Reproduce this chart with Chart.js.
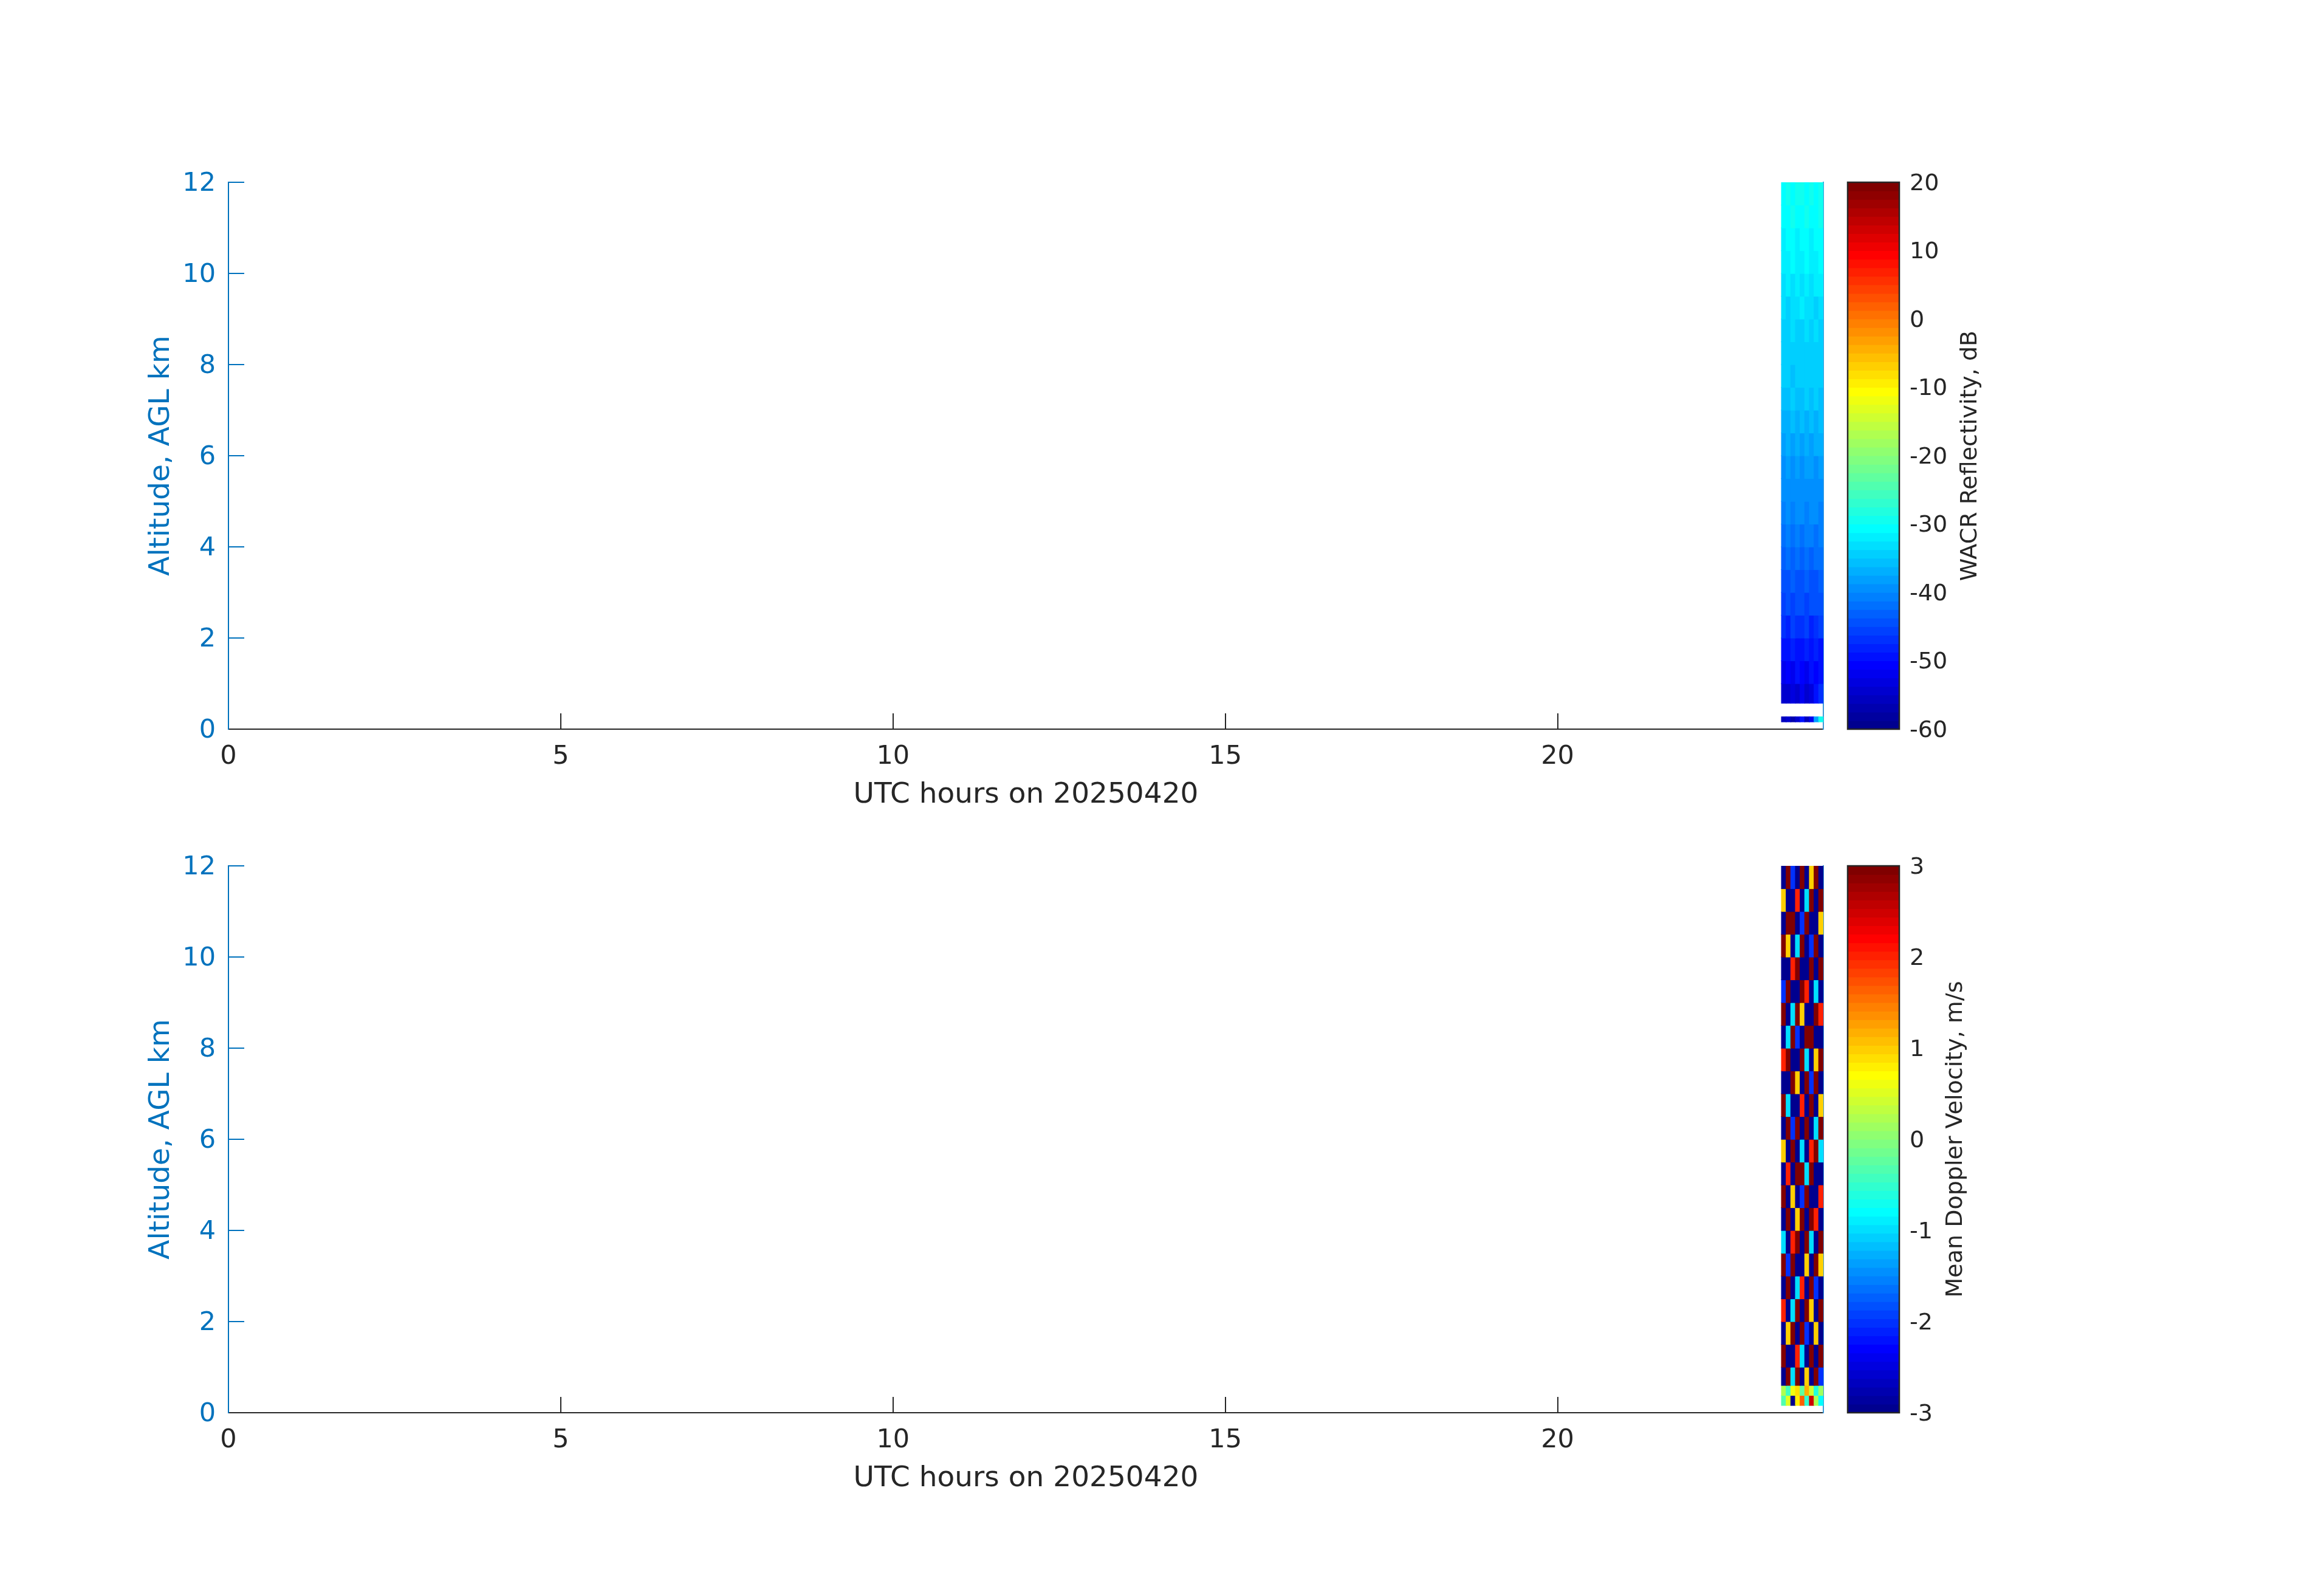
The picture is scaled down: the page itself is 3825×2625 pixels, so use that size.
<!DOCTYPE html>
<html>
<head>
<meta charset="utf-8">
<script src="https://cdn.jsdelivr.net/npm/chart.js@4.4.1/dist/chart.umd.min.js"></script>
<style>
    html, body { margin: 0; padding: 0; background: #fff; }
    body { width: 3825px; height: 2625px; position: relative; overflow: hidden; }
    canvas { position: absolute; }
</style>
</head>
<body>
<canvas id="zPlot" width="3040" height="1420" style="left:0px;top:0px"></canvas>
<canvas id="zBar" width="500" height="1420" style="left:3000px;top:0px"></canvas>
<canvas id="vPlot" width="3040" height="1420" style="left:0px;top:1125px"></canvas>
<canvas id="vBar" width="500" height="1420" style="left:3000px;top:1125px"></canvas>
<script>
const hourTicks = [0, 5, 10, 15, 20];
const altitudeTicks = [0, 2, 4, 6, 8, 10, 12];
const reflectivityTicks = [-60, -50, -40, -30, -20, -10, 0, 10, 20];
const velocityTicks = [-3, -2, -1, 0, 1, 2, 3];

// column centres, UTC hours (radar only ran the last ~40 minutes of the day)
const timeBins = [23.405, 23.475, 23.545, 23.615, 23.685, 23.755, 23.825, 23.895, 23.965];

// row edges in km, bottom to top
const reflHeightEdges = [0.16, 0.27, 0.57, 1.0, 1.5, 2.0, 2.5, 3.0, 3.5, 4.0, 4.5, 5.0, 5.5, 6.0,
    6.5, 7.0, 7.5, 8.0, 8.5, 9.0, 9.5, 10.0, 10.5, 11.0, 11.5, 12.0];
const velHeightEdges = [0.16, 0.38, 0.6, 1.0, 1.5, 2.0, 2.5, 3.0, 3.5, 4.0, 4.5, 5.0, 5.5, 6.0,
    6.5, 7.0, 7.5, 8.0, 8.5, 9.0, 9.5, 10.0, 10.5, 11.0, 11.5, 12.0];

// WACR reflectivity, dB (rows bottom to top, one value per time column)
const reflectivity = [
    [-56, -54, -57, -55, -50, -56, -52, -38, -30],
    [null, null, null, null, null, null, null, null, null],
    [-55, -54, -53, -55, -52, -54, -53, -50, -47],
    [-52, -51, -52, -50, -51, -52, -50, -51, -50],
    [-49, -50, -48, -49, -50, -48, -49, -48, -49],
    [-47, -48, -46, -47, -47, -46, -48, -47, -46],
    [-46, -45, -46, -44, -45, -46, -45, -44, -45],
    [-44, -44, -43, -45, -44, -43, -44, -45, -43],
    [-43, -42, -43, -42, -43, -42, -43, -42, -42],
    [-42, -41, -42, -41, -42, -41, -41, -42, -41],
    [-41, -40, -41, -40, -40, -41, -40, -40, -41],
    [-40, -39, -40, -39, -40, -39, -40, -39, -39],
    [-39, -38, -39, -38, -39, -38, -38, -39, -38],
    [-38, -37, -38, -37, -38, -37, -38, -37, -37],
    [-37, -37, -36, -37, -36, -37, -36, -37, -36],
    [-36, -36, -35, -36, -36, -35, -36, -35, -36],
    [-35, -35, -36, -35, -34, -35, -35, -34, -35],
    [-35, -34, -34, -35, -34, -34, -35, -34, -34],
    [-34, -34, -33, -34, -34, -33, -34, -33, -34],
    [-33, -34, -33, -33, -32, -33, -33, -34, -33],
    [-33, -32, -33, -32, -33, -32, -33, -32, -32],
    [-32, -32, -31, -32, -32, -31, -32, -32, -31],
    [-32, -31, -31, -32, -31, -31, -32, -31, -31],
    [-31, -31, -30, -31, -31, -30, -31, -31, -30],
    [-31, -30, -31, -30, -30, -31, -30, -31, -30]
];

// mean Doppler velocity, m/s (rows bottom to top)
const velocity = [
    [-0.3, 0.5, -3, 0.8, 1.6, -0.5, 2.5, 0.2, -0.8],
    [0.2, -0.4, 0.6, 0.9, -0.2, 1.2, 0.4, -0.6, 0.1],
    [-3, 3, -1, 3, -3, 1, -3, 3, -2],
    [3, -3, -3, 2, -1, -3, 3, -3, 3],
    [-3, 1, 3, -3, 3, -2, -3, 1, -3],
    [2, -3, -1, 3, -3, 3, 1, -3, 3],
    [-3, 3, -3, -1, 2, -3, 3, -2, -3],
    [3, -2, 3, -3, -3, 1, -3, 3, 1],
    [-1, -3, 2, 3, -3, 3, -1, -3, 3],
    [-3, 3, -3, 1, 3, -3, 3, 2, -3],
    [3, -3, 1, -3, -2, 3, -3, -3, 2],
    [-3, 2, -3, 3, 3, -1, 3, -3, -3],
    [1, -3, 3, -3, -1, -3, 2, 3, -1],
    [-3, 3, -2, 3, -3, 3, -3, -1, 3],
    [3, -1, -3, -3, 2, -3, 3, -3, 1],
    [-3, -3, 3, 1, -3, 3, -2, 3, -3],
    [2, 3, -3, -3, 3, -1, -3, 1, 3],
    [-3, -1, 3, -2, -3, 3, 3, -3, -3],
    [3, -3, -1, 3, 1, -3, -3, 3, 2],
    [-2, 3, -3, -3, 3, 2, -3, -1, -3],
    [-3, -3, 2, 3, -3, -3, 3, -3, 3],
    [3, 1, -3, -1, 3, -3, -2, 3, -3],
    [-3, 3, 3, -3, -2, 3, -3, -3, 1],
    [1, -3, -3, 2, -3, -1, 3, -3, 3],
    [-3, 3, -2, -3, 3, -3, 1, 3, -3]
];

const AXIS_DARK = '#262626';
const AXIS_BLUE = '#0072BD';
Chart.defaults.font.family = '"DejaVu Sans", sans-serif';

// MATLAB jet(64), k = 0..63
function jetColor(k) {
    const i = k + 1;
    const u = p => (p < 1 || p > 47) ? 0 : p <= 16 ? p / 16 : p <= 31 ? 1 : (48 - p) / 16;
    const r = u(i - 24), g = u(i - 8), b = u(i + 8);
    return 'rgb(' + Math.round(r * 255) + ',' + Math.round(g * 255) + ',' + Math.round(b * 255) + ')';
}

function levelOf(v, min, max) {
    return Math.max(0, Math.min(63, Math.floor((v - min) / (max - min) * 64)));
}

function buildCells(grid, edges) {
    const cells = [];
    grid.forEach((row, r) => {
        row.forEach((v, c) => {
            if (v === null) return;
            cells.push({ x: timeBins[c], y: [edges[r], edges[r + 1]], v: v });
        });
    });
    return cells;
}

function makePlot(id, cells, min, max) {
    new Chart(document.getElementById(id), {
        type: 'bar',
        data: {
            datasets: [{
                data: cells,
                backgroundColor: c => jetColor(levelOf(c.raw.v, min, max)),
                borderWidth: 0,
                barPercentage: 1,
                categoryPercentage: 1,
                inflateAmount: 0.6,
                base: -1000
            }]
        },
        options: {
            responsive: false,
            animation: false,
            devicePixelRatio: 1,
            layout: { padding: { left: 238, top: 300, right: 39, bottom: 83 } },
            plugins: { legend: { display: false }, tooltip: { enabled: false } },
            scales: {
                x: {
                    type: 'linear', min: 0, max: 24, offset: false,
                    afterBuildTicks: s => { s.ticks = hourTicks.map(v => ({ value: v })); },
                    afterFit: s => { s.height = 137; },
                    grid: { drawOnChartArea: false, offset: false, tickLength: -26, color: AXIS_DARK, lineWidth: 2 },
                    border: { color: AXIS_DARK, width: 2 },
                    ticks: { padding: 46, color: AXIS_DARK, autoSkip: false, maxRotation: 0,
                        font: { size: 43 }, callback: v => String(v) },
                    title: { display: true, text: 'UTC hours on 20250420', color: AXIS_DARK,
                        font: { size: 47 }, padding: 0 }
                },
                y: {
                    type: 'linear', min: 0, max: 12, position: 'left',
                    afterBuildTicks: s => { s.ticks = altitudeTicks.map(v => ({ value: v })); },
                    afterFit: s => { s.width = 138; },
                    grid: { drawOnChartArea: false, tickLength: -26, color: AXIS_BLUE, lineWidth: 2 },
                    border: { color: AXIS_BLUE, width: 2 },
                    ticks: { padding: 47, labelOffset: 3, color: AXIS_BLUE, font: { size: 43 }, callback: v => String(v) },
                    title: { display: true, text: 'Altitude, AGL km', color: AXIS_BLUE,
                        font: { size: 47 }, padding: 0 }
                },
                y2: {
                    type: 'linear', min: 0, max: 12, position: 'right', z: 1,
                    afterFit: s => { s.width = 0; },
                    grid: { drawOnChartArea: false, drawTicks: false },
                    ticks: { display: false },
                    border: { color: '#3d9ad8', width: 2 }
                }
            }
        }
    });
}

function colorbarDecor(title) {
    return {
        id: 'colorbarDecor',
        afterDraw(chart) {
            const ctx = chart.ctx;
            const a = chart.chartArea;
            ctx.save();
            ctx.strokeStyle = AXIS_DARK;
            ctx.lineWidth = 2.5;
            ctx.strokeRect(a.left, a.top, a.right - a.left, a.bottom - a.top);
            ctx.font = '38px "DejaVu Sans"';
            const widest = Math.max(...chart.scales.y.ticks.map(t => ctx.measureText(t.label).width));
            ctx.translate(a.right + 17 + widest + 48, (a.top + a.bottom) / 2);
            ctx.rotate(-Math.PI / 2);
            ctx.fillStyle = AXIS_DARK;
            ctx.textAlign = 'center';
            ctx.textBaseline = 'alphabetic';
            ctx.fillText(title, 0, 0);
            ctx.restore();
        }
    };
}

function makeColorbar(id, min, max, tickValues, title) {
    const step = (max - min) / 64;
    const bands = [];
    for (let k = 0; k < 64; k++) {
        bands.push({ x: 'c', y: [min + k * step, min + (k + 1) * step], k: k });
    }
    new Chart(document.getElementById(id), {
        type: 'bar',
        data: {
            labels: ['c'],
            datasets: [{
                data: bands,
                backgroundColor: c => jetColor(c.raw.k),
                borderWidth: 0,
                barPercentage: 1,
                categoryPercentage: 1,
                inflateAmount: 0.6,
                base: min - 1000
            }]
        },
        options: {
            responsive: false,
            animation: false,
            devicePixelRatio: 1,
            layout: { padding: { left: 41, top: 300, right: 0, bottom: 220 } },
            plugins: { legend: { display: false }, tooltip: { enabled: false } },
            scales: {
                x: { display: false },
                y: {
                    type: 'linear', min: min, max: max, position: 'right', z: 1,
                    afterBuildTicks: s => { s.ticks = tickValues.map(v => ({ value: v })); },
                    afterFit: s => { s.width = 374; },
                    grid: { drawOnChartArea: false, tickLength: -11, color: AXIS_DARK, lineWidth: 2 },
                    border: { display: false },
                    ticks: { padding: 28, labelOffset: 3, color: AXIS_DARK, font: { size: 38 }, callback: v => String(v) }
                }
            }
        },
        plugins: [colorbarDecor(title)]
    });
}

makePlot('zPlot', buildCells(reflectivity, reflHeightEdges), -60, 20);
makeColorbar('zBar', -60, 20, reflectivityTicks, 'WACR Reflectivity, dB');
makePlot('vPlot', buildCells(velocity, velHeightEdges), -3, 3);
makeColorbar('vBar', -3, 3, velocityTicks, 'Mean Doppler Velocity, m/s');
</script>
</body>
</html>
